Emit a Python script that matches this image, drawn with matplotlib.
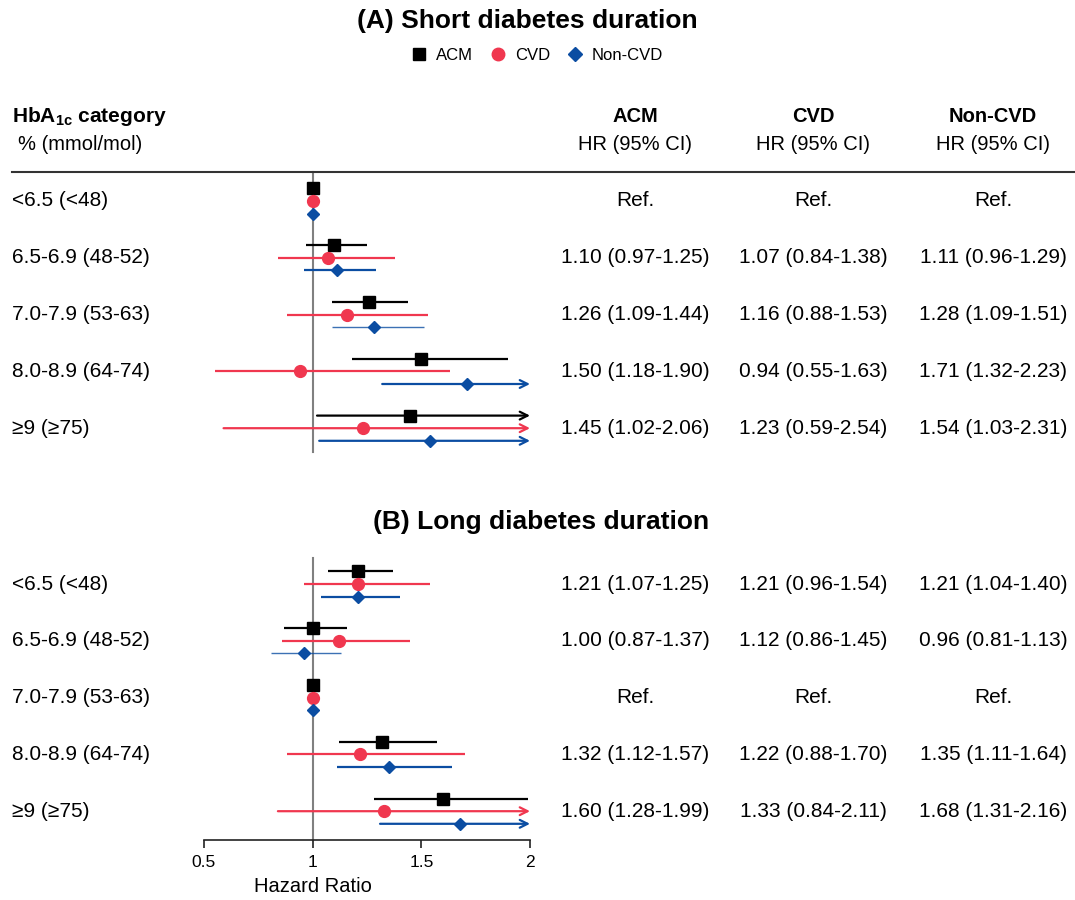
import matplotlib
matplotlib.use("Agg")
import matplotlib.pyplot as plt
from matplotlib.lines import Line2D

plt.rcParams['font.family'] = ['Liberation Sans', 'DejaVu Sans']
plt.rcParams['mathtext.fontset'] = 'custom'
plt.rcParams['mathtext.bf'] = 'Liberation Sans:bold'
plt.rcParams['mathtext.rm'] = 'Liberation Sans'

# ---------------- data ----------------
categories = ["<6.5 (<48)", "6.5-6.9 (48-52)", "7.0-7.9 (53-63)", "8.0-8.9 (64-74)", "≥9 (≥75)"]
series = ["ACM", "CVD", "Non-CVD"]

short_acm_hr = [1.00, 1.10, 1.26, 1.50, 1.45]
short_acm_lo = [1.00, 0.97, 1.09, 1.18, 1.02]
short_acm_hi = [1.00, 1.25, 1.44, 1.90, 2.06]
short_cvd_hr = [1.00, 1.07, 1.16, 0.94, 1.23]
short_cvd_lo = [1.00, 0.84, 0.88, 0.55, 0.59]
short_cvd_hi = [1.00, 1.38, 1.53, 1.63, 2.54]
short_ncvd_hr = [1.00, 1.11, 1.28, 1.71, 1.54]
short_ncvd_lo = [1.00, 0.96, 1.09, 1.32, 1.03]
short_ncvd_hi = [1.00, 1.29, 1.51, 2.23, 2.31]

long_acm_hr = [1.21, 1.00, 1.00, 1.32, 1.60]
long_acm_lo = [1.07, 0.87, 1.00, 1.12, 1.28]
long_acm_hi = [1.37, 1.16, 1.00, 1.57, 1.99]
long_cvd_hr = [1.21, 1.12, 1.00, 1.22, 1.33]
long_cvd_lo = [0.96, 0.86, 1.00, 0.88, 0.84]
long_cvd_hi = [1.54, 1.45, 1.00, 1.70, 2.11]
long_ncvd_hr = [1.21, 0.96, 1.00, 1.35, 1.68]
long_ncvd_lo = [1.04, 0.81, 1.00, 1.11, 1.31]
long_ncvd_hi = [1.40, 1.13, 1.00, 1.64, 2.16]

short_acm_txt = ["Ref.", "1.10 (0.97-1.25)", "1.26 (1.09-1.44)", "1.50 (1.18-1.90)", "1.45 (1.02-2.06)"]
short_cvd_txt = ["Ref.", "1.07 (0.84-1.38)", "1.16 (0.88-1.53)", "0.94 (0.55-1.63)", "1.23 (0.59-2.54)"]
short_ncvd_txt = ["Ref.", "1.11 (0.96-1.29)", "1.28 (1.09-1.51)", "1.71 (1.32-2.23)", "1.54 (1.03-2.31)"]
long_acm_txt = ["1.21 (1.07-1.25)", "1.00 (0.87-1.37)", "Ref.", "1.32 (1.12-1.57)", "1.60 (1.28-1.99)"]
long_cvd_txt = ["1.21 (0.96-1.54)", "1.12 (0.86-1.45)", "Ref.", "1.22 (0.88-1.70)", "1.33 (0.84-2.11)"]
long_ncvd_txt = ["1.21 (1.04-1.40)", "0.96 (0.81-1.13)", "Ref.", "1.35 (1.11-1.64)", "1.68 (1.31-2.16)"]

x_ticks = [0.5, 1, 1.5, 2]
x_tick_labels = ["0.5", "1", "1.5", "2"]

# ---------------- style ----------------
W, H = 1075, 900
colors = ["#000000", "#F0374F", "#0B4DA2"]
markers = ["s", "o", "D"]
msizes = [8.5, 8.5, 6.5]
offsets = [-12.6, 0, 12.6]
row_step = 56.8
rows_A0, rows_B0 = 201, 584
thin_short = {(2, 2)}
thin_long = {(2, 1)}
col_x = [635, 813, 993]
XMAX = 2.0

fig = plt.figure(figsize=(W / 100, H / 100), dpi=100)
ax = fig.add_axes([204 / W, 0, 326 / W, 1])
ax.set_xlim(0.5, 2)
ax.set_ylim(H, 0)
for s in ["left", "right", "top"]:
    ax.spines[s].set_visible(False)
ax.spines["bottom"].set_position(("data", 840))
ax.spines["bottom"].set_linewidth(1.2)
ax.spines["bottom"].set_color("#222222")
ax.set_yticks([])
ax.set_xticks(x_ticks)
ax.set_xticklabels(x_tick_labels, fontsize=12.5)
ax.tick_params(axis="x", length=6, width=1.2, color="#222222", pad=5)
ax.patch.set_alpha(0)


def fy(y):
    return 1 - y / H


def fx(x):
    return x / W


def draw_block(y0, hr_list, lo_list, hi_list, txt_list, thin):
    for si in range(3):
        hr, lo, hi = hr_list[si], lo_list[si], hi_list[si]
        for i in range(len(categories)):
            y = y0 + i * row_step + offsets[si]
            lw = 1.0 if (si, i) in thin else 1.6
            alpha = 0.8 if (si, i) in thin else 1.0
            if hi[i] > XMAX:
                ax.annotate("", xy=(XMAX, y), xytext=(lo[i], y),
                            arrowprops=dict(arrowstyle="->", color=colors[si], lw=1.6,
                                            mutation_scale=14, shrinkA=0, shrinkB=0))
            elif hi[i] > lo[i]:
                ax.plot([lo[i], hi[i]], [y, y], color=colors[si], lw=lw, alpha=alpha,
                        solid_capstyle="butt", zorder=2)
            ax.plot([hr[i]], [y], marker=markers[si], ms=msizes[si], color=colors[si],
                    mec=colors[si], ls="none", zorder=3)
    for i, cat in enumerate(categories):
        y = y0 + i * row_step
        fig.text(fx(12), fy(y), cat, fontsize=15, va="center", ha="left")
        for ci in range(3):
            fig.text(fx(col_x[ci]), fy(y), txt_list[ci][i], fontsize=15, va="center", ha="center")


# reference lines
ax.plot([1, 1], [172, 452], color="#808080", lw=1.5, zorder=1)
ax.plot([1, 1], [558, 840], color="#808080", lw=1.5, zorder=1)

draw_block(rows_A0, [short_acm_hr, short_cvd_hr, short_ncvd_hr],
           [short_acm_lo, short_cvd_lo, short_ncvd_lo],
           [short_acm_hi, short_cvd_hi, short_ncvd_hi],
           [short_acm_txt, short_cvd_txt, short_ncvd_txt], thin_short)
draw_block(rows_B0, [long_acm_hr, long_cvd_hr, long_ncvd_hr],
           [long_acm_lo, long_cvd_lo, long_ncvd_lo],
           [long_acm_hi, long_cvd_hi, long_ncvd_hi],
           [long_acm_txt, long_cvd_txt, long_ncvd_txt], thin_long)

# titles
fig.text(fx(527), fy(21), "(A) Short diabetes duration", fontsize=19, fontweight="bold",
         ha="center", va="center")
fig.text(fx(541), fy(522), "(B) Long diabetes duration", fontsize=19, fontweight="bold",
         ha="center", va="center")

# legend
handles = [Line2D([], [], marker=markers[i], color=colors[i], ls="none",
                  ms=msizes[i] + 0.5) for i in range(3)]
fig.legend(handles, series, loc="center", bbox_to_anchor=(fx(537), fy(55)), ncol=3,
           frameon=False, fontsize=12, handletextpad=0.5, columnspacing=1.0,
           handlelength=1.0)

# header
fig.text(fx(12), fy(117), r"HbA$_{\mathbf{1c}}$ category", fontsize=15, fontweight="bold",
         ha="left", va="center")
fig.text(fx(18), fy(145), "% (mmol/mol)", fontsize=14.5, ha="left", va="center")
for ci, name in enumerate(series):
    fig.text(fx(col_x[ci]), fy(117), name, fontsize=14.5, fontweight="bold", ha="center", va="center")
    fig.text(fx(col_x[ci]), fy(145), "HR (95% CI)", fontsize=14.5, ha="center", va="center")
fig.add_artist(Line2D([fx(12), fx(1075)], [fy(172), fy(172)], color="#333333", lw=1.5))

# x label
fig.text(fx(313), fy(887), "Hazard Ratio", fontsize=14.5, ha="center", va="center")

fig.savefig("out.png", dpi=100, facecolor="white")
